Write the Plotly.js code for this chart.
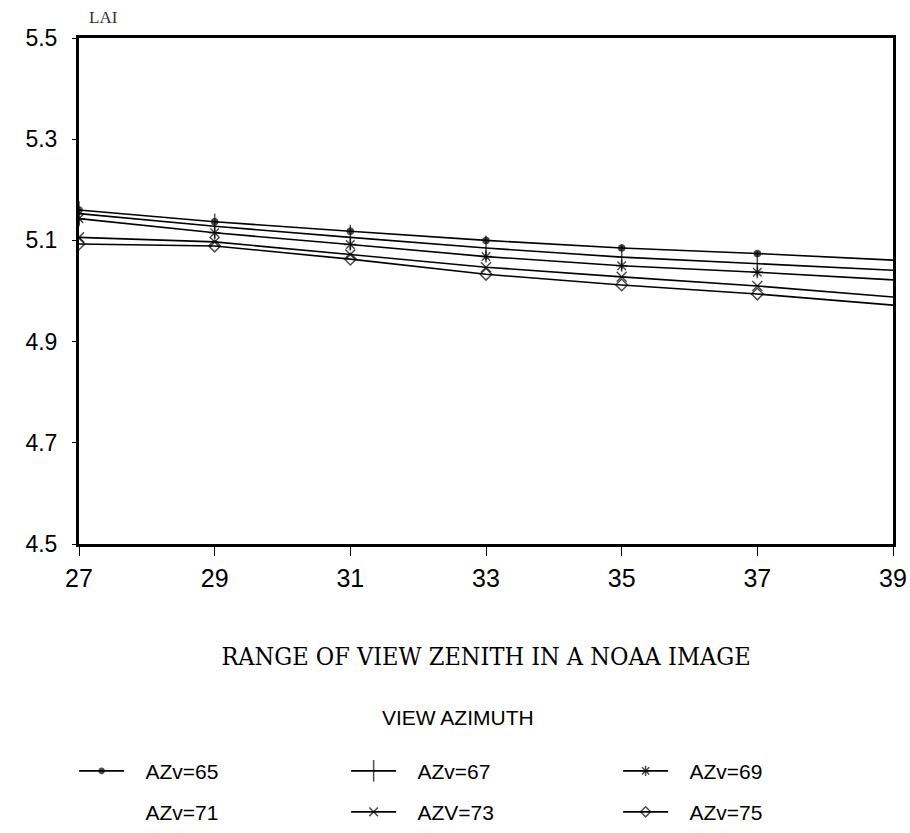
<!DOCTYPE html>
<html>
<head>
<meta charset="utf-8">
<script src="https://cdn.plot.ly/plotly-3.0.1.min.js"></script>
<style>html,body{margin:0;padding:0;background:#fff;}#chart{width:910px;height:833px;}</style>
</head>
<body>
<div id="chart"></div>
<script>
const zenith = [27, 29, 31, 33, 35, 37, 39];
const azv65 = [5.160, 5.137, 5.118, 5.100, 5.085, 5.074, 5.061];
const azv67 = [5.153, 5.128, 5.106, 5.085, 5.067, 5.054, 5.041];
const azv69 = [5.143, 5.115, 5.092, 5.068, 5.050, 5.037, 5.022];
const azv71 = [null, null, null, null, null, null, null];
const azv73 = [5.106, 5.097, 5.072, 5.047, 5.028, 5.010, 4.988];
const azv75 = [5.093, 5.089, 5.063, 5.033, 5.012, 4.994, 4.972];
const seriesNames = ['AZv=65', 'AZv=67', 'AZv=69', 'AZv=71', 'AZV=73', 'AZv=75'];
const xTicks = [27, 29, 31, 33, 35, 37, 39];
const yTicks = [4.5, 4.7, 4.9, 5.1, 5.3, 5.5];

const sizes = (s) => zenith.map((z, i) => (i === zenith.length - 1 ? 0 : s));
const mk = (y, name, symbol, size, leg) => ({
  x: zenith, y: y, name: '   ' + name, type: 'scatter', mode: 'lines+markers', legend: leg,
  line: {color: '#000', width: 1.6},
  marker: {symbol: symbol, size: sizes(size), color: '#000', line: {color: '#000', width: 1.5}}
});
const traces = [
  mk(azv65, seriesNames[0], 'circle', 6, 'legend'),
  mk(azv67, seriesNames[1], 'line-ns', 18, 'legend'),
  mk(azv69, seriesNames[2], 'asterisk', 10, 'legend'),
  {x: zenith, y: azv71, name: '   ' + seriesNames[3], type: 'scatter', mode: 'lines', legend: 'legend2',
   line: {color: 'rgba(0,0,0,0)', width: 0}},
  mk(azv73, seriesNames[4], 'x-thin', 10, 'legend2'),
  mk(azv75, seriesNames[5], 'diamond-open', 9, 'legend2')
];

const legendBase = (y) => ({
  orientation: 'h', x: -0.006, xanchor: 'left', y: y, yanchor: 'middle',
  entrywidth: 212, entrywidthmode: 'pixels', itemwidth: 45,
  font: {family: 'Liberation Sans', size: 21, color: '#000'},
  bgcolor: 'rgba(0,0,0,0)'
});

const layout = {
  width: 910, height: 833,
  margin: {l: 79, r: 17, t: 38, b: 289, autoexpand: false},
  paper_bgcolor: '#fff', plot_bgcolor: '#fff',
  showlegend: true,
  xaxis: {
    range: [27, 39], tickvals: xTicks, ticktext: xTicks.map(String),
    showgrid: false, zeroline: false, showline: true, mirror: true,
    linecolor: '#000', linewidth: 3, ticks: 'outside', ticklen: 9, tickwidth: 1, tickcolor: '#000',
    ticklabelstandoff: 1,
    tickfont: {family: 'Liberation Sans', size: 25, color: '#000'},
    title: {text: 'RANGE OF VIEW ZENITH IN A NOAA IMAGE', standoff: 57,
            font: {family: 'DejaVu Serif Condensed', size: 25, color: '#000'}}
  },
  yaxis: {
    range: [4.5, 5.5], tickvals: yTicks, ticktext: yTicks.map(v => v.toFixed(1)),
    showgrid: false, zeroline: false, showline: true, mirror: true,
    linecolor: '#000', linewidth: 3, ticks: 'outside', ticklen: 4, tickwidth: 1, tickcolor: '#000',
    ticklabelstandoff: 10,
    tickfont: {family: 'Liberation Sans', size: 23, color: '#000'}
  },
  legend: legendBase(-0.449),
  legend2: legendBase(-0.530),
  annotations: [
    {text: 'LAI', xref: 'paper', yref: 'paper', x: 0.03, y: 1.0, yshift: 21, xanchor: 'center', yanchor: 'middle',
     showarrow: false, font: {family: 'Liberation Serif', size: 17, color: '#333'}},
    {text: 'VIEW AZIMUTH', xref: 'paper', yref: 'paper', x: 0.465, y: -0.343, xanchor: 'center', yanchor: 'middle',
     showarrow: false, font: {family: 'Liberation Sans', size: 21, color: '#000'}}
  ]
};
Plotly.newPlot('chart', traces, layout, {displayModeBar: false, staticPlot: true});
</script>
</body>
</html>
